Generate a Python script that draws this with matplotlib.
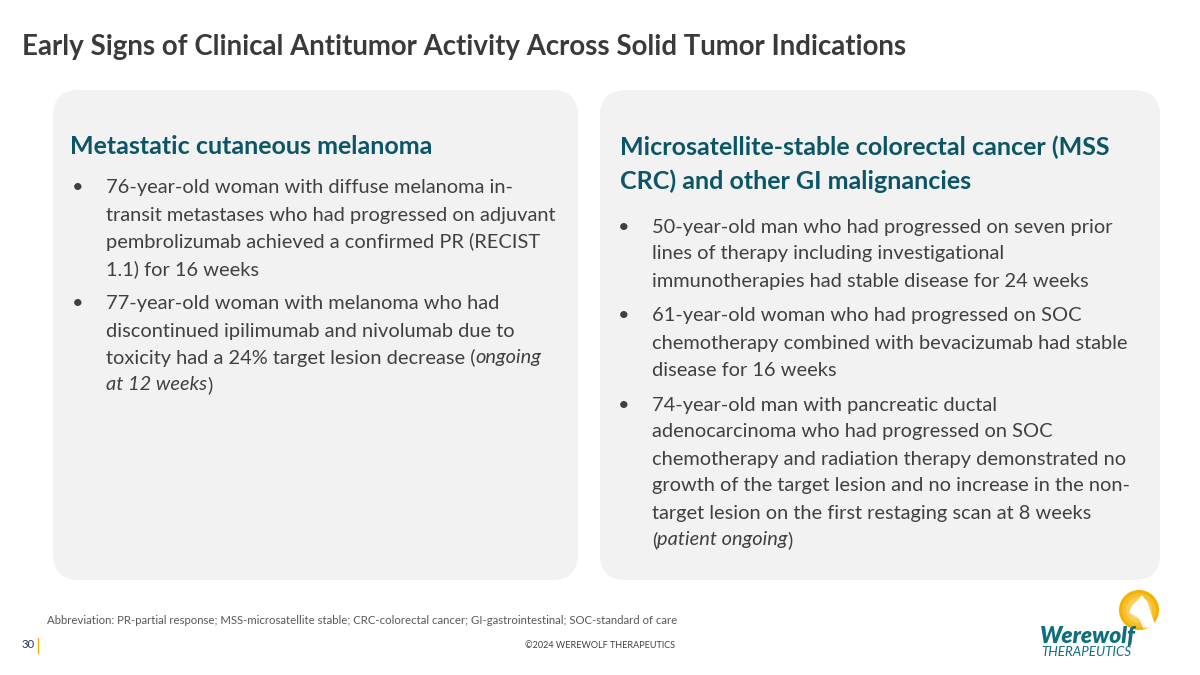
import matplotlib
matplotlib.use("Agg")
import matplotlib.pyplot as plt
from matplotlib.patches import FancyBboxPatch, Circle, Polygon

# slide text
title = "Early Signs of Clinical Antitumor Activity Across Solid Tumor Indications"

left_heading = ["Metastatic cutaneous melanoma"]
left_bullets = [
    [[("76-year-old woman with diffuse melanoma in-", "normal")],
     [("transit metastases who had progressed on adjuvant", "normal")],
     [("pembrolizumab achieved a confirmed PR (RECIST", "normal")],
     [("1.1) for 16 weeks", "normal")]],
    [[("77-year-old woman with melanoma who had", "normal")],
     [("discontinued ipilimumab and nivolumab due to", "normal")],
     [("toxicity had a 24% target lesion decrease (", "normal"), ("ongoing", "italic")],
     [("at 12 weeks", "italic"), (")", "normal")]],
]

right_heading = ["Microsatellite-stable colorectal cancer (MSS",
                 "CRC) and other GI malignancies"]
right_bullets = [
    [[("50-year-old man who had progressed on seven prior", "normal")],
     [("lines of therapy including investigational", "normal")],
     [("immunotherapies had stable disease for 24 weeks", "normal")]],
    [[("61-year-old woman who had progressed on SOC", "normal")],
     [("chemotherapy combined with bevacizumab had stable", "normal")],
     [("disease for 16 weeks", "normal")]],
    [[("74-year-old man with pancreatic ductal", "normal")],
     [("adenocarcinoma who had progressed on SOC", "normal")],
     [("chemotherapy and radiation therapy demonstrated no", "normal")],
     [("growth of the target lesion and no increase in the non-", "normal")],
     [("target lesion on the first restaging scan at 8 weeks", "normal")],
     [("(", "normal"), ("patient ongoing", "italic"), (")", "normal")]],
]

abbrev = ("Abbreviation: PR-partial response; MSS-microsatellite stable; "
          "CRC-colorectal cancer; GI-gastrointestinal; SOC-standard of care")
copyright_txt = "\u00a92024 WEREWOLF THERAPEUTICS"
page_no = "30"

FONT = "Lato"
TITLE_C = "#3a3a3a"
HEAD_C = "#0b5666"
BODY_C = "#404040"
PANEL_C = "#f2f2f2"

fig = plt.figure(figsize=(12, 6.75), dpi=100)
ax = fig.add_axes([0, 0, 1, 1])
ax.set_xlim(0, 1200)
ax.set_ylim(675, 0)
ax.axis("off")
renderer = fig.canvas.get_renderer()


def width_of(t):
    bb = t.get_window_extent(renderer)
    return bb.width


def fit_size(text, target, **kw):
    t = ax.text(0, 0, text, fontsize=20, family=FONT, **kw)
    w = width_of(t)
    t.remove()
    return 20 * target / w


def draw_runs(x, y, runs, size, color, weight="normal"):
    for s, style in runs:
        t = ax.text(x, y, s, fontsize=size, family=FONT, style=style,
                    weight=weight, color=color, va="center")
        x += width_of(t)


# sizes fitted to widths measured on the slide
title_fs = fit_size(title, 883, weight="bold")
head_fs = fit_size(left_heading[0], 362, weight="bold")
body_fs = fit_size("transit metastases who had progressed on adjuvant", 451)
foot_fs = fit_size(abbrev, 633)

ax.text(22, 47, title, fontsize=title_fs, family=FONT, weight="bold",
        color=TITLE_C, va="center")

# panels
for x0, x1 in [(53, 578), (600, 1160)]:
    ax.add_patch(FancyBboxPatch((x0, 90), x1 - x0, 490,
                                boxstyle="round,pad=0,rounding_size=26",
                                fc=PANEL_C, ec="none"))

# left panel
ax.text(70, 147, left_heading[0], fontsize=head_fs, family=FONT,
        weight="bold", color=HEAD_C, va="center")
LS = 27.0
y = 188
for bullet in left_bullets:
    ax.text(78, y, "\u2022", fontsize=body_fs, family=FONT, color=BODY_C,
            va="center", ha="center")
    for line in bullet:
        draw_runs(106, y, line, body_fs, BODY_C)
        y += LS
    y += 8

# right panel
for i, h in enumerate(right_heading):
    ax.text(620, 147 + 34 * i, h, fontsize=head_fs, family=FONT,
            weight="bold", color=HEAD_C, va="center")
y = 227
for bullet in right_bullets:
    ax.text(624, y, "\u2022", fontsize=body_fs, family=FONT, color=BODY_C,
            va="center", ha="center")
    for line in bullet:
        draw_runs(652, y, line, body_fs, BODY_C)
        y += LS
    y += 8

# footer
ax.text(47, 621, abbrev, fontsize=foot_fs, family=FONT, color="#595959",
        va="center")
pn = ax.text(22, 645, page_no, fontsize=foot_fs, family=FONT, color="#1f3864",
             va="center")
bar_x = 22 + width_of(pn) + 3
ax.plot([bar_x, bar_x], [638, 653], color="#f2b300", lw=1)
ax.text(675, 645, copyright_txt, fontsize=fit_size(copyright_txt, 150),
        family=FONT, color="#404040", va="center", ha="right")

# logo: sun with howling wolf
cx, cy = 1139, 610
for r, c in [(20, "#f5b100"), (17, "#f7bf2c"), (13, "#f9cd57"),
             (9, "#fbdc85"), (5, "#fde9b3")]:
    ax.add_patch(Circle((cx, cy), r, fc=c, ec="none"))
wolf = [(1129, 612), (1133, 605), (1138, 600), (1142, 595), (1144, 598),
        (1147, 601), (1150, 610), (1153, 619), (1156, 627), (1143, 628),
        (1140, 620), (1136, 616), (1131, 614)]
ax.add_patch(Polygon(wolf, closed=True, fc="white", ec="none"))
ax.text(1088, 636, "Werewolf",
        fontsize=fit_size("Werewolf", 96, weight="heavy", style="italic"),
        family=FONT, weight="heavy", style="italic", color="#0f6e80",
        va="center", ha="center")
ax.text(1086, 652, "THERAPEUTICS",
        fontsize=fit_size("THERAPEUTICS", 90, style="italic"),
        family=FONT, style="italic", color="#0f6e80", va="center", ha="center")

fig.savefig("out.png", dpi=100)
